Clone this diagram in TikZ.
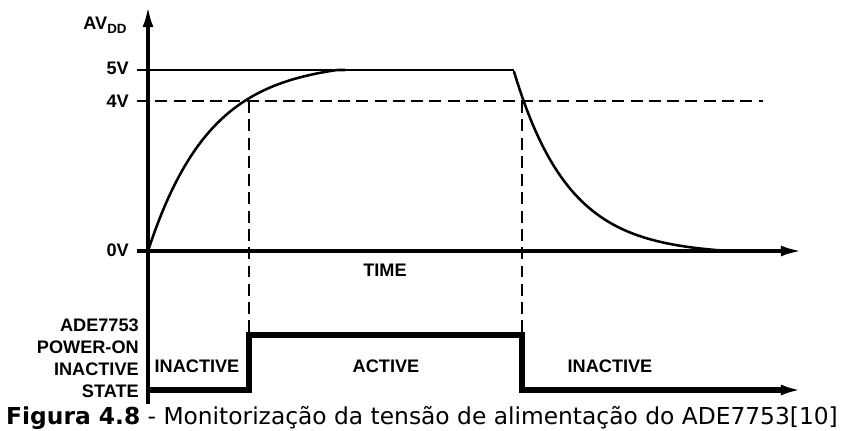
\documentclass[tikz,border=0pt]{standalone}
\usepackage{fontspec}
\setmainfont{Liberation Sans}
\newfontfamily\capfont{DejaVu Sans}
\usetikzlibrary{arrows.meta}
\tikzset{
  lbl/.style={font=\bfseries\fontsize{12.9}{15.6}\selectfont, inner sep=0pt},
  axis/.style={line width=2.6pt},
  level/.style={line width=1.9pt},
  guide/.style={line width=1.8pt, dash pattern=on 8.5pt off 4.5pt},
  curve/.style={line width=1.8pt, line cap=round},
  state/.style={line width=4pt, line join=miter},
  tip/.style={-{Latex[length=15pt,width=7.8pt]}}
}
\begin{document}
\begin{tikzpicture}[x=0.025cm,y=-0.025cm]
\useasboundingbox (0,0) rectangle (844,430);
% axes
\coordinate (Ytop) at (148,6);
\coordinate (Ybot) at (148,404);
\coordinate (t0) at (137,251);
\coordinate (Xend) at (802,251);
\coordinate (Send) at (802,390);
\draw[axis,tip] (Ybot) -- (Ytop);
\draw[axis,tip] (t0) -- (Xend);

% levels
\coordinate (t5) at (137,70);
\coordinate (off5) at (514,70);
\coordinate (t4) at (137,101);
\coordinate (e4) at (763,101);
\draw[level] (t5) -- (off5);
\draw[guide] (t4) -- (e4);

% supply ramp up and decay
\draw[curve] plot[domain=148:345,samples=80] (\x,{max(70,251-190*(1-exp(-(\x-148)/62)))});
\draw[curve] plot[domain=514:729,samples=80] (\x,{min(251,251-183*(exp(-(\x-514)/55)-0.02))});

% thresholds down to the state line
\coordinate (rise4) at (249,101);
\coordinate (fall4) at (522,101);
\coordinate (up) at (249,335);
\coordinate (down) at (522,335);
\draw[guide] (rise4) -- (up);
\draw[guide] (fall4) -- (down);
\draw[state,tip] (146,390) -| (up) -| (522,390) -- (Send);

% labels
\node[lbl] (avdd) at (105,25) {AV\raisebox{-3pt}{\fontsize{9.5}{9.5}\selectfont DD}};
\node[lbl,anchor=east] (v5) at (129,68) {5V};
\node[lbl,anchor=east] (v4) at (129,101) {4V};
\node[lbl,anchor=east] (v0) at (129,250) {0V};
\node[lbl] (time) at (385,270) {TIME};
\node[lbl,anchor=north east,align=right] (adc) at (139,319)
  {ADE7753\\POWER-ON\\INACTIVE\\STATE};
\node[lbl] (off1) at (197,366) {INACTIVE};
\node[lbl] (on) at (386,366) {ACTIVE};
\node[lbl] (off2) at (610,366) {INACTIVE};

\node[anchor=base,inner sep=0pt,font=\capfont\fontsize{16.6}{18}\selectfont] (cap) at (422,424)
  {\textbf{Figura 4.8} - Monitorização da tensão de alimentação do ADE7753[10]};
\end{tikzpicture}
\end{document}
